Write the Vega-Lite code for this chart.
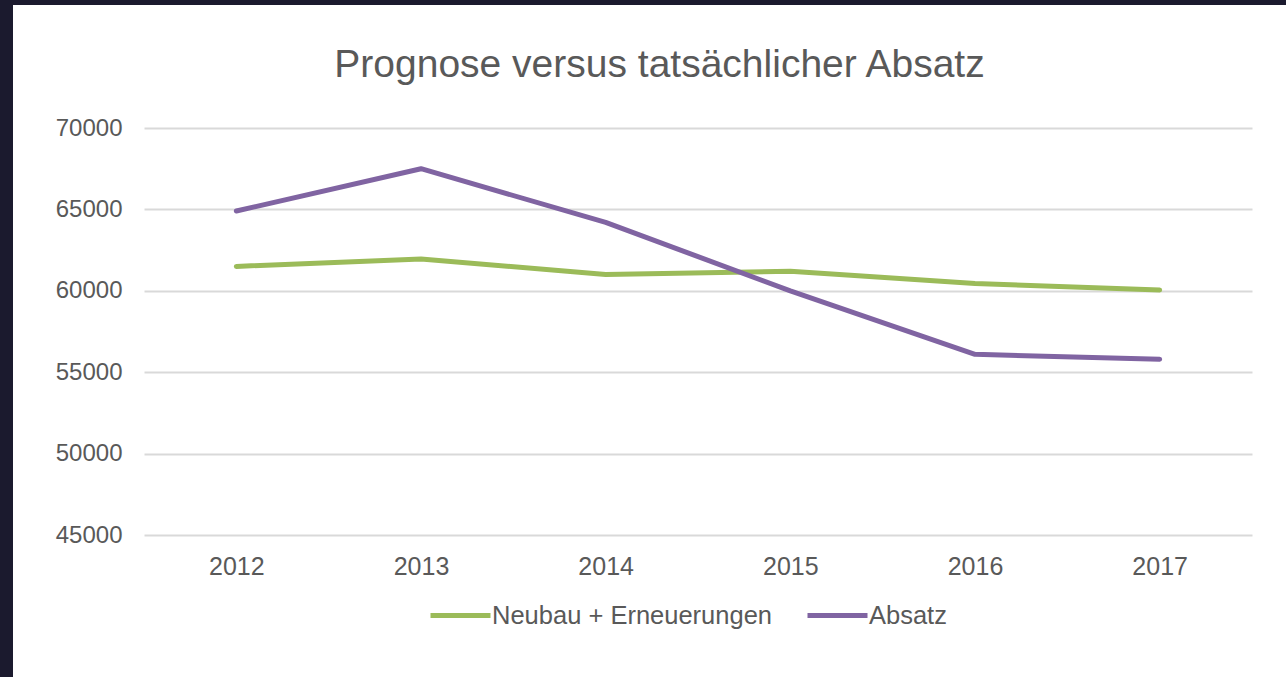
{
  "$schema": "https://vega.github.io/schema/vega-lite/v6.json",
  "autosize": {"type": "none"},
  "padding": {"left": 13, "top": 5, "right": 0, "bottom": 0},
  "width": 1273,
  "height": 672,
  "background": "#1b1a2e",
  "config": {"view": {"fill": "white", "stroke": null}, "font": "Liberation Sans"},
  "title": {"text": "Prognose versus tatsächlicher Absatz", "fontSize": 39, "fontWeight": "normal", "color": "#595959", "anchor": "middle", "frame": "group", "offset": -111, "baseline": "alphabetic", "dx": 10},
  "data": {"values": [
    {"Jahr": "2012", "Serie": "Neubau + Erneuerungen", "Wert": 61500},
    {"Jahr": "2013", "Serie": "Neubau + Erneuerungen", "Wert": 61950},
    {"Jahr": "2014", "Serie": "Neubau + Erneuerungen", "Wert": 61000},
    {"Jahr": "2015", "Serie": "Neubau + Erneuerungen", "Wert": 61200},
    {"Jahr": "2016", "Serie": "Neubau + Erneuerungen", "Wert": 60450},
    {"Jahr": "2017", "Serie": "Neubau + Erneuerungen", "Wert": 60050},
    {"Jahr": "2012", "Serie": "Absatz", "Wert": 64900},
    {"Jahr": "2013", "Serie": "Absatz", "Wert": 67500},
    {"Jahr": "2014", "Serie": "Absatz", "Wert": 64200},
    {"Jahr": "2015", "Serie": "Absatz", "Wert": 60000},
    {"Jahr": "2016", "Serie": "Absatz", "Wert": 56100},
    {"Jahr": "2017", "Serie": "Absatz", "Wert": 55800}
  ]},
  "mark": {"type": "line", "strokeWidth": 5, "strokeCap": "round", "strokeJoin": "round"},
  "encoding": {
    "x": {"field": "Jahr", "type": "ordinal", "scale": {"type": "point", "range": [131, 1239], "padding": 0.5},
      "axis": {"title": null, "labelAngle": 0, "ticks": false, "domain": false, "grid": false, "offset": -142, "labelPadding": 19, "labelFontSize": 25, "labelColor": "#595959"}},
    "y": {"field": "Wert", "type": "quantitative", "scale": {"domain": [45000, 70000], "range": [530, 123], "zero": false, "nice": false},
      "axis": {"title": null, "values": [45000, 50000, 55000, 60000, 65000, 70000], "format": "d", "ticks": false, "domain": false, "grid": true, "gridColor": "#d9d9d9", "gridWidth": 2, "offset": -131, "labelPadding": 22, "labelFontSize": 24, "labelColor": "#595959"}},
    "color": {"field": "Serie", "type": "nominal", "sort": ["Neubau + Erneuerungen", "Absatz"],
      "scale": {"domain": ["Neubau + Erneuerungen", "Absatz"], "range": ["#9bbb59", "#8064a2"]},
      "legend": {"orient": "none", "legendX": 415, "legendY": 578, "direction": "horizontal", "title": null, "symbolType": "stroke", "symbolSize": 3600, "symbolStrokeWidth": 5, "labelFontSize": 25.5, "labelColor": "#595959", "labelOffset": -1, "columnPadding": 24, "labelLimit": 400}}
  }
}
